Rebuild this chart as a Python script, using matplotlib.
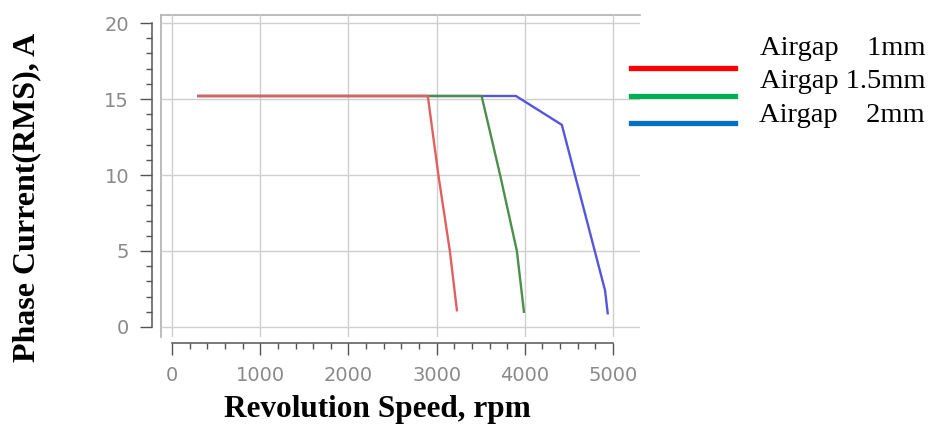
import numpy as np
import matplotlib
matplotlib.use("Agg")
import matplotlib.pyplot as plt
from matplotlib.lines import Line2D

# data
speed_1mm = [300, 2900, 3020, 3150, 3230]
current_1mm = [15.2, 15.2, 10.0, 5.0, 1.1]
speed_15mm = [300, 3510, 3720, 3910, 3990]
current_15mm = [15.2, 15.2, 10.0, 5.0, 1.0]
speed_2mm = [300, 3900, 4420, 4910, 4940]
current_2mm = [15.2, 15.2, 13.3, 2.4, 0.9]

labels = ["Airgap    1mm", "Airgap 1.5mm", "Airgap    2mm"]
x_ticks = [0, 1000, 2000, 3000, 4000, 5000]
y_ticks = [0, 5, 10, 15, 20]

W, H = 933, 430
def box(l, t, r, b):
    return [l / W, 1 - b / H, (r - l) / W, (b - t) / H]

fig = plt.figure(figsize=(W / 100, H / 100), dpi=100)
pos = box(161, 15, 640, 337)

# light outer frame
frame = fig.add_axes(pos, label="frame")
frame.set_xticks([])
frame.set_yticks([])
for s in ["bottom", "right"]:
    frame.spines[s].set_visible(False)
for s in ["top", "left"]:
    frame.spines[s].set_color("#b0b0b0")
    frame.spines[s].set_linewidth(1.2)

ax = fig.add_axes(pos, label="data", facecolor="none")
ax.set_xlim(-125, 5306)
ax.set_ylim(-0.66, 20.53)

ax.plot(speed_2mm, current_2mm, color="#5555dd", lw=1.7)
ax.plot(speed_15mm, current_15mm, color="#4a8f4a", lw=1.7)
ax.plot(speed_1mm, current_1mm, color="#e06060", lw=1.7)

ax.set_xticks(x_ticks)
ax.set_yticks(y_ticks)
ax.set_xticks(np.arange(0, 5001, 200), minor=True)
ax.set_yticks(np.arange(0, 21, 1), minor=True)
ax.grid(True, which="major", color="#cfcfcf", lw=1)

for s in ["top", "right"]:
    ax.spines[s].set_visible(False)
ax.spines["left"].set_position(("outward", 6.5))
ax.spines["left"].set_bounds(0, 20)
ax.spines["bottom"].set_position(("outward", 4.3))
ax.spines["bottom"].set_bounds(0, 5000)
for s in ["left", "bottom"]:
    ax.spines[s].set_color("#555555")
    ax.spines[s].set_linewidth(1.1)

ax.tick_params(which="major", length=8.5, width=1, color="#555555",
               labelcolor="#8a8a8a", labelsize=14, pad=8)
ax.tick_params(which="minor", length=4.5, width=1, color="#555555")

fig.text(377 / W, 1 - 410 / H, "Revolution Speed, rpm", ha="center", va="center",
         family="Liberation Serif", weight="bold", size=22.5)
fig.text(27 / W, 1 - 197 / H, "Phase Current(RMS), A", ha="center", va="center",
         rotation=90, family="Liberation Serif", weight="bold", size=23)

# legend: coloured keys on the left, labels right-aligned above them
key_colors = ["#ff0000", "#00b050", "#0070c0"]
key_y = [68, 96, 123]
text_y = [55, 88, 122]
for c, ky, ty, lab in zip(key_colors, key_y, text_y, labels):
    fig.add_artist(Line2D([631 / W, 735 / W], [1 - ky / H, 1 - ky / H],
                          color=c, lw=3.8, transform=fig.transFigure))
    fig.text(925 / W, 1 - ty / H, lab, ha="right", va="baseline",
             family="Liberation Serif", size=20.5)

fig.savefig("out.png", dpi=100)
